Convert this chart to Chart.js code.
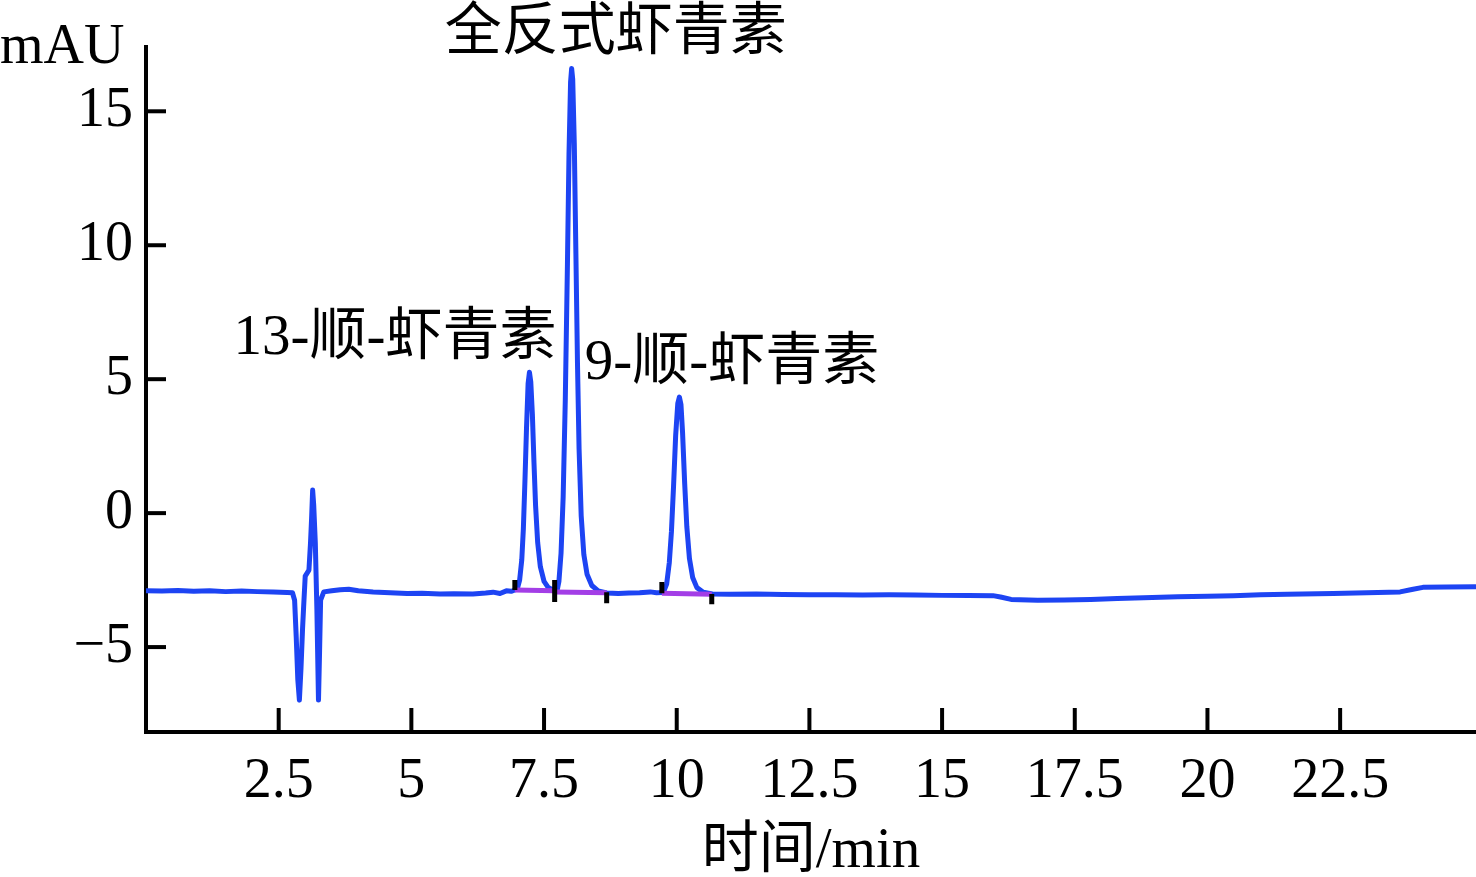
<!DOCTYPE html>
<html><head><meta charset="utf-8">
<script src="https://cdn.jsdelivr.net/npm/chart.js@4.4.0/dist/chart.umd.min.js"></script>
<style>html,body{margin:0;padding:0;background:#fff;overflow:hidden}#wrap{width:1476px;height:877px;position:relative}</style>
</head><body><div id="wrap"><canvas id="c" width="1476" height="877"></canvas></div>
<script>
// Chromatogram trace: retention time (min) and detector signal (mAU)
const timeMin = [
  0.00,0.30,0.60,0.90,1.20,1.50,1.80,2.10,2.40,2.66,2.76,2.80,2.83,2.86,2.89,2.92,2.95,2.97,3.00,3.07,
  3.10,3.12,3.14,3.16,3.19,3.22,3.25,3.27,3.29,3.35,3.50,3.66,3.82,4.00,4.28,4.60,4.92,5.20,5.54,5.80,
  6.16,6.40,6.54,6.67,6.79,6.88,6.95,
  7.00,7.04,7.08,7.11,7.14,7.17,7.20,7.225,7.25,7.28,7.31,7.34,7.38,7.43,7.50,7.58,7.66,7.72,
  7.75,7.78,7.82,7.86,7.90,7.94,7.97,8.00,8.02,8.04,8.07,8.10,8.13,8.16,8.20,8.25,8.31,8.40,8.52,8.68,
  8.90,9.10,9.30,9.50,9.62,9.72,
  9.76,9.81,9.86,9.90,9.94,9.98,10.02,10.05,10.08,10.11,10.15,10.19,10.24,10.30,10.38,10.50,10.67,
  11.00,11.50,12.00,12.50,13.00,13.50,14.00,14.50,15.00,15.50,15.96,16.10,16.30,16.80,17.30,17.80,
  18.30,18.80,19.44,20.00,20.49,21.00,21.50,22.37,23.00,23.63,23.85,24.06,24.50,25.06
];
const signalMAU = [
  -2.90,-2.91,-2.89,-2.92,-2.90,-2.93,-2.91,-2.93,-2.94,-2.96,-2.97,-3.25,-4.60,-6.20,-6.98,-5.80,-4.30,-3.50,-2.35,-2.13,
  -1.10,-0.20,0.86,0.30,-1.10,-3.60,-6.98,-5.20,-3.25,-2.94,-2.90,-2.86,-2.84,-2.90,-2.94,-2.97,-3.00,-2.99,-3.02,-3.01,
  -3.02,-2.98,-2.95,-3.00,-2.90,-2.92,-2.87,
  -2.80,-2.50,-1.75,-0.60,1.20,3.20,4.85,5.26,4.90,3.70,1.90,0.30,-1.10,-2.00,-2.55,-2.78,-2.86,-2.88,
  -2.85,-2.55,-1.50,0.60,4.20,9.20,13.40,16.10,16.60,16.20,13.80,9.70,5.60,2.40,-0.10,-1.55,-2.28,-2.70,-2.90,-2.98,
  -3.00,-2.98,-2.97,-2.94,-2.97,-2.96,
  -2.90,-2.65,-1.85,-0.70,1.00,2.90,4.10,4.33,4.05,3.00,1.10,-0.50,-1.70,-2.40,-2.78,-2.95,-3.02,
  -3.03,-3.02,-3.04,-3.05,-3.05,-3.06,-3.05,-3.06,-3.07,-3.07,-3.08,-3.13,-3.22,-3.25,-3.24,-3.22,
  -3.19,-3.16,-3.12,-3.10,-3.08,-3.05,-3.03,-3.00,-2.97,-2.94,-2.85,-2.77,-2.76,-2.75
];
// Integration baselines (purple) for the three peaks
const baseStartX = [6.95, 7.70, 9.72];
const baseStartY = [-2.87, -2.94, -2.99];
const baseEndX   = [7.70, 8.68, 10.66];
const baseEndY   = [-2.90, -2.97, -3.03];
// Peak start/end markers (short black bars)
const markX      = [6.95, 7.70, 8.68, 9.72, 10.66];
const markTop    = [-2.50, -2.50, -2.95, -2.57, -3.02];
const markBottom = [-2.87, -3.32, -3.36, -2.99, -3.40];
// Axis ticks and texts
const xTicks = [2.5, 5, 7.5, 10, 12.5, 15, 17.5, 20, 22.5];
const yTicks = [-5, 0, 5, 10, 15];
const xTitle = '时间/min';
const yUnit = 'mAU';
const peakLabels = ['全反式虾青素', '13-顺-虾青素', '9-顺-虾青素'];

const FONT = '"Liberation Serif", "Noto Sans CJK SC", serif';
const BLUE = '#1d44f3';
const PURPLE = '#a33ee6';

const datasets = [];
datasets.push({
  label: 'trace',
  data: timeMin.map((t, i) => ({x: t, y: signalMAU[i]})),
  borderColor: BLUE, borderWidth: 5, pointRadius: 0, tension: 0, fill: false,
  borderJoinStyle: 'round', order: 2
});
baseStartX.forEach((v, i) => datasets.push({
  label: 'baseline' + i,
  data: [{x: baseStartX[i], y: baseStartY[i]}, {x: baseEndX[i], y: baseEndY[i]}],
  borderColor: PURPLE, borderWidth: 5, pointRadius: 0, fill: false, order: 1
}));
markX.forEach((v, i) => datasets.push({
  label: 'mark' + i,
  data: [{x: v, y: markTop[i]}, {x: v, y: markBottom[i]}],
  borderColor: '#000', borderWidth: 5, pointRadius: 0, fill: false, borderCapStyle: 'butt', order: 0
}));

const decor = {
  id: 'decor',
  afterDraw(chart) {
    const {ctx, scales: {x, y}} = chart;
    ctx.save();
    ctx.strokeStyle = '#000';
    ctx.lineWidth = 4;
    ctx.lineCap = 'butt';
    xTicks.forEach(v => {
      const px = x.getPixelForValue(v);
      ctx.beginPath(); ctx.moveTo(px, y.bottom); ctx.lineTo(px, y.bottom - 24); ctx.stroke();
    });
    yTicks.forEach(v => {
      const py = y.getPixelForValue(v);
      ctx.beginPath(); ctx.moveTo(x.left, py); ctx.lineTo(x.left + 20, py); ctx.stroke();
    });
    ctx.fillStyle = '#000';
    ctx.font = '56px ' + FONT;
    ctx.textBaseline = 'middle';
    ctx.textAlign = 'left';
    ctx.fillText(yUnit, 0, 48);
    ctx.font = '57px ' + FONT;
    const anchors = [[8.85, 17.87], [4.69, 6.49], [11.04, 5.56]];
    ctx.textAlign = 'center';
    peakLabels.forEach((txt, i) => {
      ctx.fillText(txt, x.getPixelForValue(anchors[i][0]), y.getPixelForValue(anchors[i][1]));
    });
    ctx.restore();
  }
};

new Chart(document.getElementById('c'), {
  type: 'line',
  data: {datasets},
  options: {
    responsive: false, animation: false, devicePixelRatio: 1,
    layout: {padding: {top: 47, right: 0, left: 0, bottom: 0}},
    plugins: {legend: {display: false}, tooltip: {enabled: false}},
    scales: {
      x: {
        type: 'linear', min: 0, max: 25.06,
        afterBuildTicks: s => { s.ticks = xTicks.map(v => ({value: v})); },
        afterFit: s => { s.height = 145; },
        grid: {display: false, drawTicks: false},
        border: {display: true, color: '#000', width: 4},
        ticks: {color: '#000', padding: 17, maxRotation: 0, autoSkip: false,
                font: {family: FONT, size: 56}, callback: v => String(v)},
        title: {display: true, text: xTitle, color: '#000',
                font: {family: FONT, size: 57, lineHeight: 1.0}, padding: {top: 0, bottom: -4}}
      },
      y: {
        type: 'linear', min: -8.17, max: 17.4,
        afterBuildTicks: s => { s.ticks = yTicks.map(v => ({value: v})); },
        afterFit: s => { s.width = 146; },
        grid: {display: false, drawTicks: false},
        border: {display: true, color: '#000', width: 4},
        ticks: {color: '#000', padding: 13, autoSkip: false,
                font: {family: FONT, size: 56}, callback: v => (v < 0 ? '\u2212' + Math.abs(v) : String(v))}
      }
    }
  },
  plugins: [decor]
});
</script>
</body></html>
